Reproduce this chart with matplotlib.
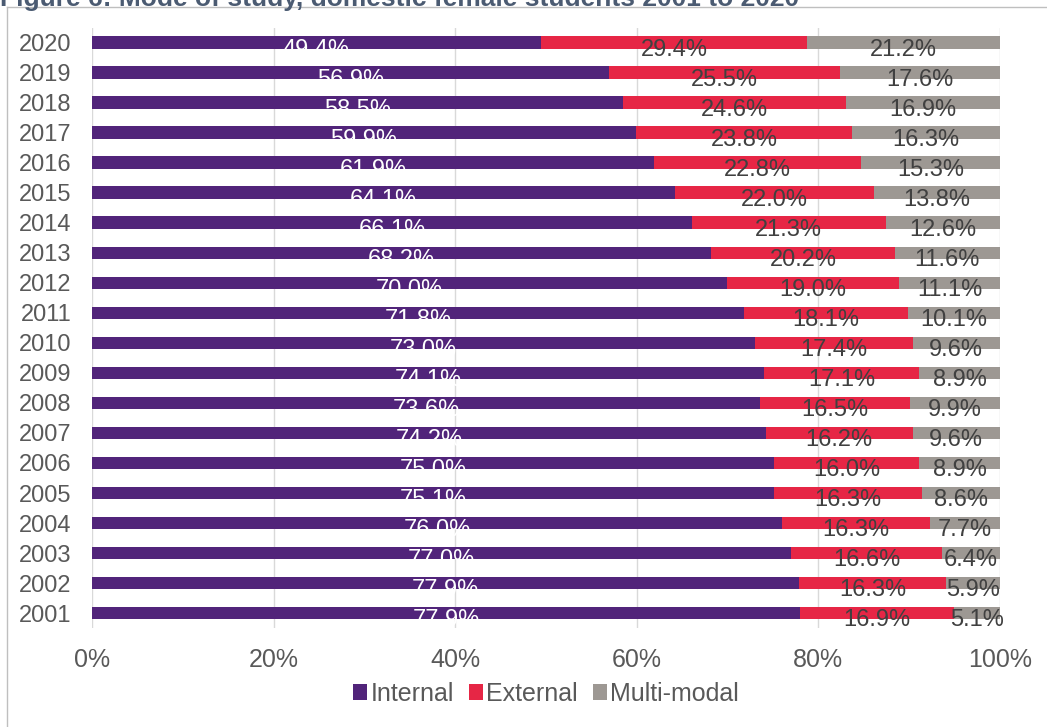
import matplotlib.pyplot as plt
import numpy as np

plt.rcParams['font.family'] = ['Liberation Sans', 'DejaVu Sans']

years = ['2001', '2002', '2003', '2004', '2005', '2006', '2007', '2008', '2009', '2010',
         '2011', '2012', '2013', '2014', '2015', '2016', '2017', '2018', '2019', '2020']
internal = [77.9, 77.9, 77.0, 76.0, 75.1, 75.0, 74.2, 73.6, 74.1, 73.0,
            71.8, 70.0, 68.2, 66.1, 64.1, 61.9, 59.9, 58.5, 56.9, 49.4]
external = [16.9, 16.3, 16.6, 16.3, 16.3, 16.0, 16.2, 16.5, 17.1, 17.4,
            18.1, 19.0, 20.2, 21.3, 22.0, 22.8, 23.8, 24.6, 25.5, 29.4]
multimodal = [5.1, 5.9, 6.4, 7.7, 8.6, 8.9, 9.6, 9.9, 8.9, 9.6,
              10.1, 11.1, 11.6, 12.6, 13.8, 15.3, 16.3, 16.9, 17.6, 21.2]

series = [('Internal', internal, '#51247a', 'white'),
          ('External', external, '#e62645', '#404040'),
          ('Multi-modal', multimodal, '#9d9893', '#404040')]

fig = plt.figure(figsize=(10.47, 7.27), dpi=100)
ax = fig.add_axes([0.088, 0.136, 0.867, 0.826])

# 100% stacked: scale each year so the three parts fill the bar
totals = np.array(internal) + np.array(external) + np.array(multimodal)
y = np.arange(len(years))
left = np.zeros(len(years))
for name, vals, color, tcolor in series:
    w = np.array(vals) / totals * 100
    ax.barh(y, w, left=left, height=0.42, color=color, label=name, zorder=3)
    for yi, l, wi, v in zip(y, left, w, vals):
        ax.annotate(f'{v:.1f}%', (l + wi / 2, yi), xytext=(0, -5), textcoords='offset points',
                    ha='center', va='center', fontsize=17, color=tcolor, zorder=4)
    left += w

ax.set_xlim(0, 100)
ax.set_ylim(-0.5, len(years) - 0.5)
ax.set_yticks(y)
ax.set_yticklabels(years)
ax.set_xticks(np.arange(0, 101, 20))
ax.set_xticklabels([f'{t}%' for t in range(0, 101, 20)])
ax.tick_params(axis='both', length=0, colors='#595959')
ax.tick_params(axis='x', pad=14, labelsize=18)
ax.tick_params(axis='y', pad=15, labelsize=17)
ax.grid(axis='x', color='#d9d9d9', linewidth=1, zorder=0)
for s in ax.spines.values():
    s.set_visible(False)

ax.legend(loc='upper center', bbox_to_anchor=(0.5, -0.052), ncol=3, frameon=False,
          fontsize=18, handlelength=0.55, handleheight=0.55, handletextpad=0.15,
          columnspacing=0.6, labelcolor='#595959')

# outer chart border and the clipped heading above it
fig.add_artist(plt.Line2D([0.007, 0.007], [0, 0.99], color='#bfbfbf', linewidth=1))
fig.add_artist(plt.Line2D([0.007, 1.0], [0.99, 0.99], color='#bfbfbf', linewidth=1))
fig.text(0.0, 1.002, 'Figure 6: Mode of study, domestic female students 2001 to 2020',
         fontsize=19, fontweight='bold', color='#4b5b72', ha='left', va='center')

fig.savefig('out.png', dpi=100)
